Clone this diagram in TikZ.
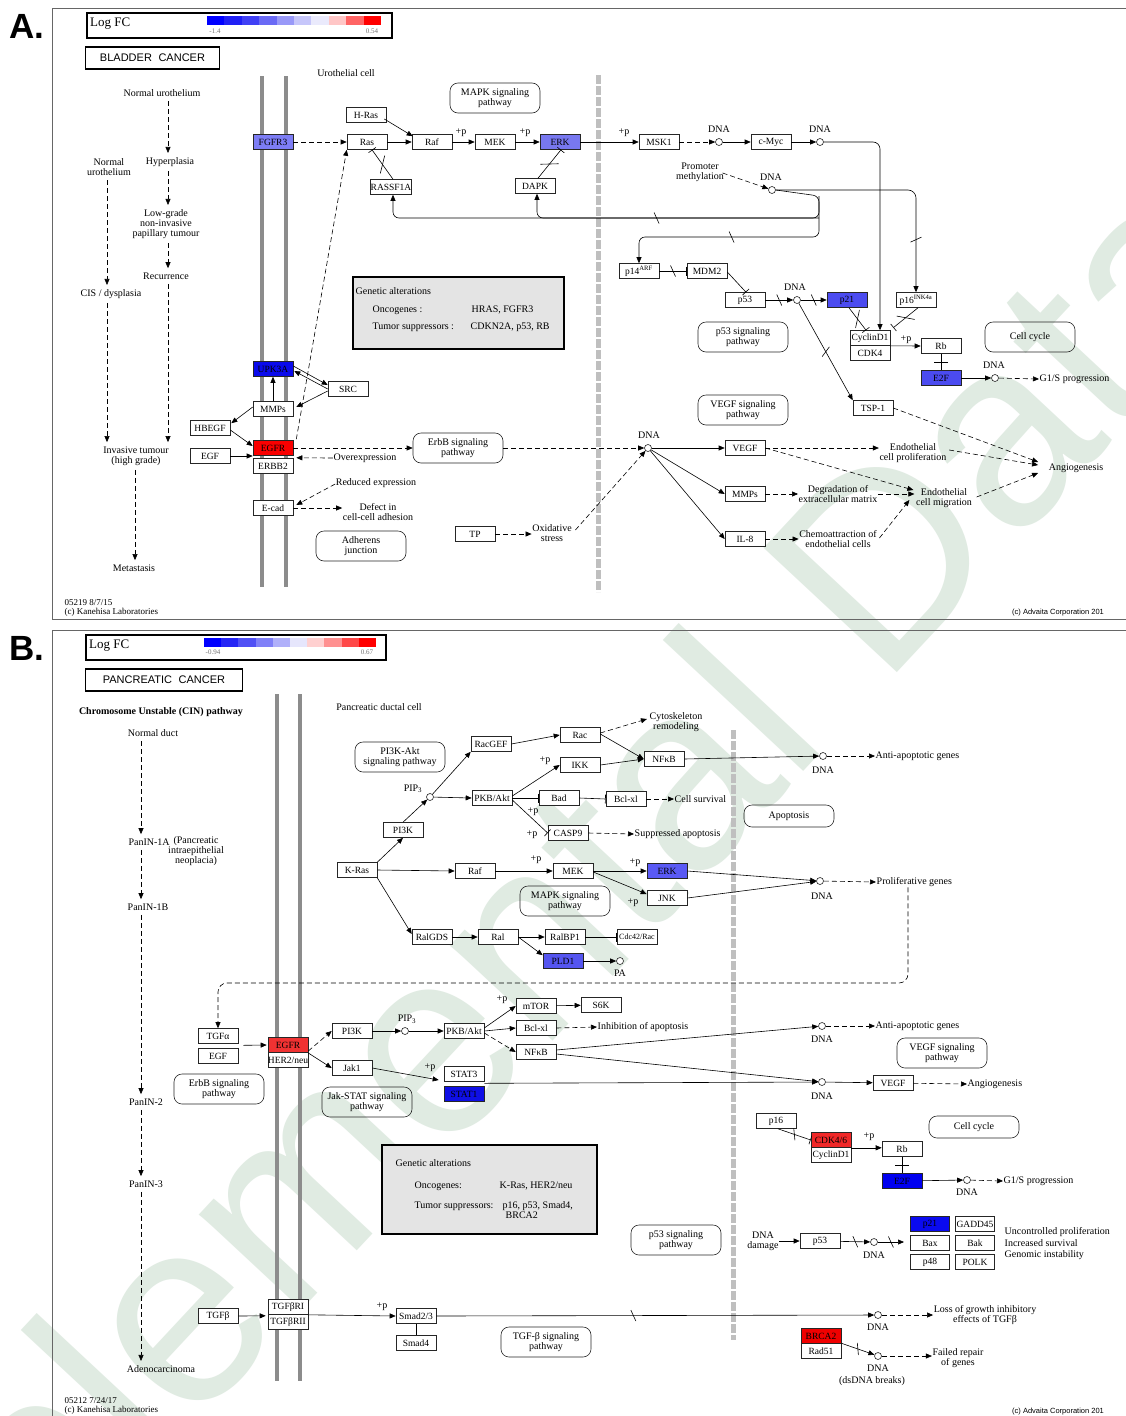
\documentclass[tikz,border=0pt]{standalone}
\usepackage{fontspec}
\setmainfont{Liberation Serif}
\newfontfamily\sansf{Liberation Sans}
\usetikzlibrary{arrows.meta,decorations.markings}
\definecolor{cfgfr}{RGB}{125,125,245}
\definecolor{cerkA}{RGB}{120,120,240}
\definecolor{cupk}{RGB}{10,10,235}
\definecolor{cp21A}{RGB}{75,75,240}
\definecolor{ce2fA}{RGB}{75,75,240}
\definecolor{credA}{RGB}{250,0,0}
\definecolor{cerkB}{RGB}{90,90,245}
\definecolor{cpld}{RGB}{85,85,240}
\definecolor{cstat}{RGB}{15,15,230}
\definecolor{ce2fB}{RGB}{0,0,240}
\definecolor{cp21B}{RGB}{10,10,240}
\definecolor{cegfrB}{RGB}{240,50,50}
\definecolor{ccdk}{RGB}{240,40,40}
\definecolor{cbrca}{RGB}{240,0,0}
\definecolor{wm}{RGB}{224,235,226}
\definecolor{gbox}{RGB}{228,228,228}
\definecolor{a1}{HTML}{0000FF}\definecolor{a2}{HTML}{2020F5}\definecolor{a3}{HTML}{4040F5}
\definecolor{a4}{HTML}{6A6AF5}\definecolor{a5}{HTML}{9999F8}\definecolor{a6}{HTML}{C6C6FA}
\definecolor{a7}{HTML}{EAEAFC}\definecolor{a8}{HTML}{FFC6C6}\definecolor{a9}{HTML}{FF6464}
\definecolor{a10}{HTML}{FF0000}
\definecolor{b1}{HTML}{0000FF}\definecolor{b2}{HTML}{2525F5}\definecolor{b3}{HTML}{5050F5}
\definecolor{b4}{HTML}{8080F8}\definecolor{b5}{HTML}{B0B0FA}\definecolor{b6}{HTML}{E6E6FC}
\definecolor{b7}{HTML}{FFD0D0}\definecolor{b8}{HTML}{FF9090}\definecolor{b9}{HTML}{FF4848}
\definecolor{b10}{HTML}{FF0000}
\newcommand\fs{\fontsize{10}{10}\selectfont}
\newcommand\gs{\fontsize{9.5}{10}\selectfont}
\newcommand\smallf{\fontsize{7}{7}\selectfont}
\begin{document}
\begin{tikzpicture}[x=1pt,y=-1pt,
 gene/.style={draw=black!85, line width=0.6pt, fill=white, minimum width=40, minimum height=15, inner sep=0pt, font=\gs},
 pw/.style={draw=black!85, line width=0.6pt, rounded corners=8, minimum width=90, minimum height=30, inner sep=1pt, align=center, font=\fs},
 txt/.style={inner sep=0.5pt, align=center, font=\fs},
 col/.style={txt, outer sep=4pt},
 dna/.style={circle, draw=black!85, fill=white, line width=0.6pt, minimum size=7, inner sep=0pt},
 ar/.style={line width=0.6pt, -{Triangle[length=6pt,width=5pt]}},
 dar/.style={ar, dash pattern=on 5pt off 3pt},
 inh/.style={line width=0.6pt, -{Bar[width=9pt]}},
 ln/.style={line width=0.6pt},
 memb/.style={line width=3.5pt, draw=black!45},
 vd/.style={line width=5pt, draw=black!25, dash pattern=on 9pt off 2pt},
 frm/.style={line width=0.8pt, draw=black!60},
 xs/.style={postaction={decorate}, decoration={markings, mark=at position #1 with {\draw[solid, -, line width=0.6pt] (-2.5,-5.5) -- (2.5,5.5);}}},
 xs/.default=0.5,
 xl/.style={postaction={decorate}, decoration={markings, mark=at position #1 with {\draw[solid, -, line width=0.6pt] (-6,-7) -- (6,7);}}},
 xl/.default=0.5,
 tb/.style={postaction={decorate}, decoration={markings, mark=at position 0.5 with {\draw[solid, -, line width=0.7pt] (0,-7) -- (0,7);}}},
 lfc/.style={draw, line width=1.8pt, anchor=north west, inner sep=0pt},
 titl/.style={draw, line width=1.8pt, inner sep=0pt, font=\sansf\fontsize{11}{11}\selectfont},
 gen/.style={draw, line width=2pt, fill=gbox, anchor=north west, inner sep=0pt},
 lt/.style={txt, anchor=west, align=left},
 panl/.style={font=\sansf\bfseries\fontsize{35}{35}\selectfont, inner sep=0pt}
]
\useasboundingbox (0,0) rectangle (1126,1416);
\fill[white] (0,0) rectangle (1126,1416);
% watermark
\node[rotate=47, anchor=base west, text=wm, font=\sansf\fontsize{265}{265}\selectfont, inner sep=0pt] (wmk) at (-273,1927) {Supplemental Data};

%================ PANEL A =================
\node[panl] (labA) at (27,26) {A.};
\draw[frm] (1140,8) -- (52,8) -- (52,619) -- (1140,619);
\node[lfc, minimum width=305, minimum height=25] (lfcA) at (86,12) {};
\node[anchor=west, font=\fontsize{13}{13}\selectfont, inner sep=0pt] (lfcAt) at (90,24) {Log FC};
\foreach \c [count=\i from 0] in {a1,a2,a3,a4,a5,a6,a7,a8,a9,a10} {\fill[\c] ({207+17.4*\i},16) rectangle ++(17.4,9);}
\node[font=\smallf, text=black!55, inner sep=0pt] (lfcAmin) at (215,31) {-1.4};
\node[font=\smallf, text=black!55, inner sep=0pt] (lfcAmax) at (372,31) {0.54};
\node[titl, minimum width=134, minimum height=22] (titA) at (152.5,58) {BLADDER\hspace{0.6em}CANCER};

\draw[memb] (262,76) -- (262,587);
\draw[memb] (286,76) -- (286,587);
\draw[vd] (598,75) -- (598,592);
\node[txt] (uro) at (346,73) {Urothelial cell};

% left column
\coordinate (colA1) at (168,0);
\coordinate (colA2) at (107,0);
\coordinate (colA3) at (135,0);
\node[col] (nu1) at (162,93) {Normal urothelium};
\node[col] (hyp) at (170,162) {Hyperplasia};
\node[col] (nu2) at (109,167) {Normal\\urothelium};
\node[col] (lg) at (166,224) {Low-grade\\non-invasive\\papillary tumour};
\node[col] (rec) at (166,276) {Recurrence};
\node[col] (cis) at (111,294) {CIS / dysplasia};
\node[col] (inv) at (136,456) {Invasive tumour\\(high grade)};
\node[col] (met) at (134,568) {Metastasis};
\draw[dar] (nu1.south -| colA1) -- (hyp.north -| colA1);
\draw[dar] (hyp.south -| colA1) -- (lg.north -| colA1);
\draw[dar] (lg.south -| colA1) -- (rec.north -| colA1);
\draw[dar] (rec.south -| colA1) -- (inv.north -| colA1);
\draw[dar] (nu2.south -| colA2) -- (cis.north -| colA2);
\draw[dar] (cis.south -| colA2) -- (inv.north -| colA2);
\draw[dar] (inv.south -| colA3) -- (met.north -| colA3);

% top row
\node[pw] (mapkA) at (495,98) {MAPK signaling\\pathway};
\node[gene, fill=cfgfr] (fgfr3) at (273,142) {FGFR3};
\node[gene] (hras) at (366,115) {H-Ras};
\node[gene] (ras) at (367,142) {Ras};
\node[gene] (raf) at (432,142) {Raf};
\node[gene] (mek) at (495,142) {MEK};
\node[gene, fill=cerkA] (erk) at (560,142) {ERK};
\node[gene] (rassf) at (391,187) {RASSF1A};
\node[gene] (dapk) at (535,186) {DAPK};
\node[gene] (msk) at (659,142) {MSK1};
\node[dna] (dna1) at (719,142) {};
\node[txt] (ldna1) at (719,129) {DNA};
\node[gene] (cmyc) at (771,142) {c-Myc};
\node[dna] (dna2) at (820,142) {};
\node[txt] (ldna2) at (820,129) {DNA};
\node[txt] (pm) at (700,172) {Promoter\\methylation};
\node[dna] (dna3) at (772,190) {};
\node[txt] (ldna3) at (771,177) {DNA};
\node[gene] (p14) at (639,271) {p14\textsuperscript{ARF}};
\node[gene] (mdm2) at (707,271) {MDM2};
\node[gene] (p53) at (745,300) {p53};
\node[dna] (dna4) at (797,300) {};
\node[txt] (ldna4) at (795,287) {DNA};
\node[gene, fill=cp21A] (p21) at (847,300) {p21};
\node[gene] (p16) at (916,300) {p16\textsuperscript{INK4a}};
\node[gene] (ccnd) at (870,338) {CyclinD1};
\node[gene] (cdk4) at (870,353) {CDK4};
\node[gene] (rb) at (941,346) {Rb};
\node[gene, fill=ce2fA] (e2f) at (941,378) {E2F};
\node[dna] (dna5) at (995,378) {};
\node[txt] (ldna5) at (994,365) {DNA};
\node[txt, anchor=west] (g1s) at (1039,379) {G1/S progression};
\node[pw] (ccA) at (1030,337) {Cell cycle};
\node[pw] (p53pw) at (743,337) {p53 signaling\\pathway};
\node[pw] (vegfpw) at (743,410) {VEGF signaling\\pathway};
\node[gene] (tsp) at (873,408) {TSP-1};
\node[txt] (angio) at (1076,468) {Angiogenesis};
\node[txt] (pA1) at (461,133) {+p};
\node[txt] (pA2) at (525,133) {+p};
\node[txt] (pA3) at (624,133) {+p};
\node[txt] (pA4) at (906,340) {+p};

% genetic alterations A
\node[gen, minimum width=211, minimum height=72] (genA) at (352,276) {};
\node[lt] (genA1) at (355,291) {Genetic alterations};
\node[lt] (genA2) at (372,310) {Oncogenes :};
\node[lt] (genA3) at (471,310) {HRAS, FGFR3};
\node[lt] (genA4) at (372,327) {Tumor suppressors :};
\node[lt] (genA5) at (470,327) {CDKN2A, p53, RB};

% membrane genes
\node[gene, fill=cupk] (upk) at (273,369) {UPK3A};
\node[gene] (mmpA) at (273,409) {MMPs};
\node[gene] (src) at (348,389) {SRC};
\node[gene] (hbegf) at (210,428) {HBEGF};
\node[gene, fill=credA] (egfrA) at (273,448) {EGFR};
\node[gene] (erbb2) at (273,466) {ERBB2};
\node[gene] (egfA) at (210,456) {EGF};
\node[gene] (ecad) at (273,508) {E-cad};
\node[pw] (erbbA) at (458,448) {ErbB signaling\\pathway};
\node[txt] (overx) at (365,458) {Overexpression};
\node[txt] (redx) at (376,483) {Reduced expression};
\node[txt] (defect) at (378,512) {Defect in\\cell-cell adhesion};
\node[pw] (adh) at (361,546) {Adherens\\junction};
\node[gene] (tp) at (475,534) {TP};
\node[txt] (oxs) at (552,533) {Oxidative\\stress};
\node[dna] (dna6) at (648,448) {};
\node[txt] (ldna6) at (649,435) {DNA};
\node[gene] (vegfA) at (745,448) {VEGF};
\node[gene] (mmpA2) at (745,494) {MMPs};
\node[gene] (il8) at (745,539) {IL-8};
\node[txt] (ecp) at (913,453) {Endothelial\\cell proliferation};
\node[txt] (ecm) at (944,498) {Endothelial\\cell migration};
\node[txt] (dem) at (838,494) {Degradation of\\extracellular matrix};
\node[txt] (chem) at (838,539) {Chemoattraction of\\endothelial cells};

\node[lt, font=\fontsize{9}{9.5}\selectfont] (footA) at (64,608) {05219 8/7/15\\(c) Kanehisa Laboratories};
\node[anchor=west, inner sep=0pt, font=\sansf\fontsize{7.5}{8}\selectfont] (advA) at (1012,613) {(c) Advaita Corporation 201};

% edges A
\draw[dar] (fgfr3) -- (ras);
\draw[ar] ([shift={(-2,4)}]hras.east) -- ([shift={(1,2)}]raf.north west);
\draw[ar] (ras) -- (raf);
\draw[ar] (raf) -- (mek);
\draw[ar] (mek) -- (erk);
\draw[ar] (erk) -- (msk);
\draw[dar] (msk) -- (dna1);
\draw[ar] (dna1) -- (cmyc);
\draw[ar] (cmyc) -- (dna2);
\draw[ar, rounded corners=7] (dna2.east) -| ([xshift=10]ccnd.north);
\draw[inh, xl] ([xshift=2]rassf.north) -- ([xshift=5]ras.south);
\draw[inh, xl] ([xshift=3]dapk.north) -- ([xshift=1]erk.south);
\coordinate (fb0) at (819,196);
\coordinate (fb1) at (819,218);
\coordinate (fb2) at (819,237);
\draw[ar, rounded corners=8, xs=0.78] (dna3.east) -| (p16.north);
\draw[ar, rounded corners=6, xs=0.44] (dna3.east) -- (fb0) -- (fb1) -| ([xshift=2]rassf.south);
\draw[ar, rounded corners=6] (fb1) -| ([xshift=2]dapk.south);
\draw[ar, rounded corners=6, xs=0.52] (fb0) -- (fb2) -| (p14.north);
\draw[dar] ([shift={(-2,1)}]pm.east) -- (dna3);
\draw[inh, xs] (p14) -- (mdm2);
\draw[inh] ([shift={(0,1)}]mdm2.east) -- ([xshift=1]p53.north);
\draw[ar, xs] (p53) -- (dna4);
\draw[ar, xs] (dna4) -- (p21);
\draw[inh, xl] ([xshift=2]p21.south) -- ([xshift=-4]ccnd.north);
\draw[inh, xl] ([xshift=2]p16.south) -- ([shift={(3,-2.5)}]ccnd.north east);
\draw[ar] (ccnd.south east) -- (rb.west);
\draw[ln, tb] (rb) -- (e2f);
\draw[ar] (e2f) -- (dna5);
\draw[dar] (dna5) -- (g1s.west);
\draw[ar, xs] (dna4) -- (tsp.north west);
\draw[dar] (tsp.east) -- ([shift={(-10,-6)}]angio.west);
% membrane edges
\draw[ar] (mmpA.north) -- (upk.south);
\draw[ar] ([shift={(0,-3)}]upk.east) -- ([shift={(0,-4)}]src.west);
\draw[ar] ([shift={(0,0)}]src.west) -- ([shift={(1,2)}]upk.east);
\draw[ar] ([shift={(0,2)}]src.west) -- ([shift={(3,-2)}]mmpA.east);
\draw[ar] ([shift={(0,-2)}]mmpA.west) -- ([shift={(1,3)}]hbegf.north east);
\draw[ar] ([shift={(0,2)}]hbegf.east) -- ([shift={(0,-2)}]egfrA.west);
\draw[ar] (egfA.east) -- (egfA.east -| egfrA.west);
\draw[dar] (egfrA.east) -- (erbbA.west);
\draw[dar] ([shift={(3,-1)}]egfrA.north east) -- (ras.south west);
\draw[dar] (overx.west) -- ([shift={(3,2)}]egfrA.south east);
\draw[dar] ([shift={(0,1)}]redx.west) -- ([shift={(3,-3)}]ecad.east);
\draw[dar] (ecad.east) -- (ecad.east -| defect.west);
\draw[dar] (erbbA.east) -- (dna6);
\draw[dar] (tp.east) -- (tp.east -| oxs.west);
\draw[dar] ([shift={(3,-3)}]oxs.east) -- (dna6);
\draw[ar] (dna6) -- (vegfA.west);
\draw[ar] (dna6) -- (mmpA2.west);
\draw[ar] (dna6) -- (il8.west);
\draw[dar] (vegfA.east) -- (vegfA.east -| ecp.west);
\draw[dar] (vegfA.east) -- ([shift={(-2,-8)}]ecm.west);
\draw[dar] (mmpA2.east) -- (mmpA2.east -| dem.west);
\draw[dar] (dem.east) -- ([shift={(-1,-4)}]ecm.west);
\draw[dar] (il8.east) -- (il8.east -| chem.west);
\draw[dar] ([shift={(2,-1)}]chem.east) -- ([shift={(-6,2)}]ecm.west);
\draw[dar] ([shift={(2,-3)}]ecp.east) -- ([shift={(-10,-3)}]angio.west);
\draw[dar] ([shift={(4,-1)}]ecm.east) -- ([shift={(-10,5)}]angio.west);

%================ PANEL B =================
\node[panl] (labB) at (27,648) {B.};
\draw[frm] (1140,630) -- (52,630) -- (52,1440);
\node[lfc, minimum width=300, minimum height=25] (lfcB) at (85,634) {};
\node[anchor=west, font=\fontsize{13}{13}\selectfont, inner sep=0pt] (lfcBt) at (89,646) {Log FC};
\foreach \c [count=\i from 0] in {b1,b2,b3,b4,b5,b6,b7,b8,b9,b10} {\fill[\c] ({204+17.2*\i},638) rectangle ++(17.2,9);}
\node[font=\smallf, text=black!55, inner sep=0pt] (lfcBmin) at (213,652) {-0.94};
\node[font=\smallf, text=black!55, inner sep=0pt] (lfcBmax) at (367,652) {0.67};
\node[titl, minimum width=157, minimum height=22] (titB) at (164,680) {PANCREATIC\hspace{0.6em}CANCER};

\draw[memb] (277,694) -- (277,1381);
\draw[memb] (300,694) -- (300,1381);
\draw[vd] (733,730) -- (733,1340);
\node[txt] (pdc) at (379,707) {Pancreatic ductal cell};

% left column B
\coordinate (colB) at (141,0);
\node[txt, font=\fs\bfseries] (cin) at (161,712) {Chromosome Unstable (CIN) pathway};
\node[col] (nd) at (153,733) {Normal duct};
\node[col, anchor=west] (p1a) at (124,842) {PanIN-1A};
\node[txt, font=\fontsize{10}{9}\selectfont] (p1ad) at (196,851) {(Pancreatic\\intraepithelial\\neoplacia)};
\node[col] (p1b) at (148,907) {PanIN-1B};
\node[col] (p2) at (146,1102) {PanIN-2};
\node[col] (p3) at (146,1184) {PanIN-3};
\node[col] (adeno) at (161,1369) {Adenocarcinoma};
\draw[dar] (nd.south -| colB) -- (p1a.north -| colB);
\draw[dar] (p1a.south -| colB) -- (p1b.north -| colB);
\draw[dar] (p1b.south -| colB) -- (p2.north -| colB);
\draw[dar] (p2.south -| colB) -- (p3.north -| colB);
\draw[dar] (p3.south -| colB) -- (adeno.north -| colB);

% upper network
\node[pw] (pi3kpw) at (400,757) {PI3K-Akt\\signaling pathway};
\node[gene] (kras) at (357,870) {K-Ras};
\node[gene] (pi3kB) at (403,830) {PI3K};
\node[dna] (pip3a) at (430,797) {};
\node[txt] (lpip3a) at (413,789) {PIP\textsubscript{3}};
\node[gene] (racgef) at (491,744) {RacGEF};
\node[gene] (pkbB) at (492,798) {PKB/Akt};
\node[gene] (rac) at (580,735) {Rac};
\node[gene] (ikk) at (580,765) {IKK};
\node[gene] (nfkbB1) at (664,759) {NFκB};
\node[gene] (bad) at (559,798) {Bad};
\node[gene] (bclB1) at (626,799) {Bcl-xl};
\node[gene] (casp9) at (568,833) {CASP9};
\node[gene] (rafB) at (475,871) {Raf};
\node[gene] (mekB) at (573,871) {MEK};
\node[gene, fill=cerkB] (erkB) at (667,871) {ERK};
\node[gene] (jnk) at (667,898) {JNK};
\node[gene] (ralgds) at (432,937) {RalGDS};
\node[gene] (ral) at (498,937) {Ral};
\node[gene] (ralbp1) at (565,937) {RalBP1};
\node[gene, font=\fontsize{8}{8}\selectfont] (cdc42) at (637,937) {Cdc42/Rac};
\node[gene, fill=cpld] (pld1) at (563,961) {PLD1};
\node[dna] (pa) at (620,961) {};
\node[txt] (lpa) at (620,973) {PA};
\node[pw] (mapkB) at (565,901) {MAPK signaling\\pathway};
\node[txt] (cyto) at (676,722) {Cytoskeleton\\remodeling};
\node[txt, anchor=west] (csurv) at (674,799) {Cell survival};
\node[txt, anchor=west] (supap) at (634,834) {Suppressed apoptosis};
\node[pw, minimum height=22] (apopt) at (789,816) {Apoptosis};
\node[dna] (dnaB1) at (823,756) {};
\node[txt] (ldnaB1) at (823,770) {DNA};
\node[txt, anchor=west] (antiap1) at (875,756) {Anti-apoptotic genes};
\node[dna] (dnaB2) at (820,881) {};
\node[txt] (ldnaB2) at (822,896) {DNA};
\node[txt, anchor=west] (prolif) at (876,882) {Proliferative genes};
\node[txt] (pB1) at (545,761) {+p};
\node[txt] (pB2) at (533,812) {+p};
\node[txt] (pB3) at (532,835) {+p};
\node[txt] (pB4) at (536,860) {+p};
\node[txt] (pB5) at (635,863) {+p};
\node[txt] (pB6) at (633,903) {+p};

% lower network
\node[gene] (tgfa) at (218,1036) {TGFα};
\node[gene] (egfB) at (218,1056) {EGF};
\node[gene, fill=cegfrB] (egfrB) at (288,1045) {EGFR};
\node[gene] (her2) at (288,1060) {HER2/neu};
\node[gene] (pi3kB2) at (352,1031) {PI3K};
\node[gene] (jak1) at (352,1068) {Jak1};
\node[dna] (pip3b) at (405,1031) {};
\node[txt] (lpip3b) at (407,1019) {PIP\textsubscript{3}};
\node[gene] (pkbB2) at (464,1031) {PKB/Akt};
\node[gene] (mtor) at (536,1006) {mTOR};
\node[gene] (s6k) at (601,1005) {S6K};
\node[gene] (bclB2) at (536,1028) {Bcl-xl};
\node[txt, anchor=west] (inhap) at (597,1027) {Inhibition of apoptosis};
\node[gene] (nfkbB2) at (536,1052) {NFκB};
\node[gene] (stat3) at (464,1074) {STAT3};
\node[gene, fill=cstat] (stat1) at (464,1094) {STAT1};
\node[dna] (dnaB3) at (822,1026) {};
\node[txt] (ldnaB3) at (822,1039) {DNA};
\node[txt, anchor=west] (antiap2) at (875,1026) {Anti-apoptotic genes};
\node[dna] (dnaB4) at (822,1082) {};
\node[txt] (ldnaB4) at (822,1096) {DNA};
\node[gene] (vegfB) at (893,1083) {VEGF};
\node[txt, anchor=west] (angioB) at (967,1084) {Angiogenesis};
\node[pw] (vegfpwB) at (942,1053) {VEGF signaling\\pathway};
\node[pw] (erbbB) at (219,1089) {ErbB signaling\\pathway};
\node[pw] (jakpw) at (367,1102) {Jak-STAT signaling\\pathway};
\node[txt] (pB7) at (502,1000) {+p};
\node[txt] (pB8) at (430,1068) {+p};

% genetic alterations B
\node[gen, minimum width=215, minimum height=89] (genB) at (381,1144) {};
\node[lt] (genB1) at (395,1163) {Genetic alterations};
\node[lt] (genB2) at (414,1186) {Oncogenes:};
\node[lt] (genB3) at (499,1186) {K-Ras, HER2/neu};
\node[lt] (genB4) at (414,1206) {Tumor suppressors:};
\node[lt] (genB5) at (502,1206) {p16, p53, Smad4,};
\node[lt] (genB6) at (505,1215) {BRCA2};

% cell cycle B
\node[gene] (p16B) at (776,1121) {p16};
\node[gene, fill=ccdk] (cdk46) at (831,1140) {CDK4/6};
\node[gene] (ccndB) at (831,1155) {CyclinD1};
\node[gene] (rbB) at (902,1149) {Rb};
\node[gene, fill=ce2fB] (e2fB) at (902,1181) {E2F};
\node[dna] (dnaB5) at (967,1180) {};
\node[txt] (ldnaB5) at (967,1192) {DNA};
\node[txt, anchor=west] (g1sB) at (1003,1181) {G1/S progression};
\node[pw, minimum height=22] (ccB) at (974,1127) {Cell cycle};
\node[txt] (pB9) at (869,1137) {+p};

% p53 B
\node[pw] (p53pwB) at (676,1240) {p53 signaling\\pathway};
\node[txt] (dnadmg) at (763,1241) {DNA\\damage};
\node[gene] (p53B) at (820,1241) {p53};
\node[dna] (dnaB6) at (874,1242) {};
\node[txt] (ldnaB6) at (874,1255) {DNA};
\coordinate (grp) at (904,1242);
\node[gene, minimum width=39, fill=cp21B] (p21B) at (930,1224) {p21};
\node[gene, minimum width=39] (gadd) at (975,1224) {GADD45};
\node[gene, minimum width=39] (bax) at (930,1243) {Bax};
\node[gene, minimum width=39] (bak) at (975,1243) {Bak};
\node[gene, minimum width=39] (p48) at (930,1262) {p48};
\node[gene, minimum width=39] (polk) at (975,1262) {POLK};
\node[lt, font=\fontsize{10}{11.5}\selectfont] (outc) at (1004,1244) {Uncontrolled proliferation\\Increased survival\\Genomic instability};

% TGF-beta B
\node[gene] (tgfb) at (218,1316) {TGFβ};
\node[gene] (tgfbr1) at (288,1307) {TGFβRI};
\node[gene] (tgfbr2) at (288,1322) {TGFβRII};
\node[gene] (smad23) at (416,1316) {Smad2/3};
\node[gene] (smad4) at (416,1343) {Smad4};
\node[pw] (tgfpw) at (546,1342) {TGF-β signaling\\pathway};
\node[dna] (dnaB7) at (878,1315) {};
\node[txt] (ldnaB7) at (878,1327) {DNA};
\node[txt] (loss) at (985,1315) {Loss of growth inhibitory\\effects of TGFβ};
\node[txt] (pB10) at (382,1307) {+p};
\node[gene, fill=cbrca] (brca2) at (821,1336) {BRCA2};
\node[gene] (rad51) at (821,1351) {Rad51};
\node[dna] (dnaB8) at (878,1356) {};
\node[txt] (ldnaB8) at (878,1368) {DNA};
\node[txt] (dsb) at (872,1381) {(dsDNA breaks)};
\node[txt] (failed) at (958,1358) {Failed repair\\of genes};

\node[lt, font=\fontsize{9}{9.5}\selectfont] (footB) at (64,1406) {05212 7/24/17\\(c) Kanehisa Laboratories};
\node[anchor=west, inner sep=0pt, font=\sansf\fontsize{7.5}{8}\selectfont] (advB) at (1012,1412) {(c) Advaita Corporation 201};

% edges B upper
\draw[ar] (kras.north east) -- (pi3kB.south);
\draw[ar] (pi3kB.north) -- (pip3a);
\draw[ar] (pip3a) -- (racgef.south west);
\draw[ar] (pip3a) -- (pkbB.west);
\draw[ar] (racgef.east) -- (rac.west);
\draw[ar] ([shift={(0,-2)}]pkbB.east) -- (ikk.west);
\draw[dar] ([shift={(0,-2)}]rac.east) -- ([shift={(-2,-3)}]cyto.west);
\draw[ar] ([shift={(0,-1)}]rac.east) -- (nfkbB1.west);
\draw[ar] (ikk.east) -- (nfkbB1.west);
\draw[ar] (nfkbB1.east) -- (dnaB1);
\draw[dar] (dnaB1) -- (antiap1.west);
\draw[inh] (pkbB.east) -- (bad.west);
\draw[inh] (bad.east) -- (bclB1.west);
\draw[dar] (bclB1.east) -- (csurv.west);
\draw[inh] ([shift={(0,2)}]pkbB.east) -- (casp9.west);
\draw[dar] (casp9.east) -- (supap.west);
\draw[ar] (kras.east) -- (rafB.west);
\draw[ar] (rafB) -- (mekB);
\draw[ar] (mekB.east) -- (erkB.west);
\draw[ar] ([shift={(0,1)}]mekB.east) -- ([shift={(0,-4)}]jnk.west);
\draw[ar] (erkB.east) -- (dnaB2);
\draw[ar] (jnk.east) -- (dnaB2);
\draw[dar] (dnaB2) -- (prolif.west);
\draw[ar] (kras.south east) -- ([shift={(0,-3)}]ralgds.west);
\draw[ar] (ralgds) -- (ral);
\draw[ar] (ral) -- (ralbp1);
\draw[inh] (ralbp1) -- (cdc42);
\draw[ar] (ral.east) -- ([shift={(0,2)}]pld1.north west);
\draw[ar] (pld1) -- (pa);
\coordinate (rt) at (908,983);
\draw[dar, rounded corners=9] (prolif.south -| rt) -- (rt) -| (tgfa.north);

% edges B lower
\draw[ar] ([shift={(5,1.5)}]tgfa.south east) -- ([shift={(-1,0)}]egfrB.west);
\draw[dar] ([shift={(0,6)}]egfrB.east) -- (pi3kB2.west);
\draw[ar] ([shift={(0,8)}]egfrB.east) -- (jak1.west);
\draw[ar] (pi3kB2) -- (pip3b);
\draw[ar] (pip3b) -- (pkbB2);
\draw[ar] ([shift={(0,-3)}]pkbB2.east) -- (mtor.west);
\draw[ar] (mtor) -- (s6k);
\draw[ar] (pkbB2.east) -- (bclB2.west);
\draw[dar] (bclB2.east) -- (inhap.west);
\draw[dar] ([shift={(0,2)}]pkbB2.east) -- (nfkbB2.west);
\draw[ar] ([shift={(0,-2)}]nfkbB2.east) -- (dnaB3);
\draw[ar] ([shift={(0,2)}]nfkbB2.east) -- (dnaB4);
\draw[dar] (dnaB3) -- (antiap2.west);
\draw[ar] (jak1.east) -- ([shift={(-5,6)}]stat3.west);
\draw[ar] ([shift={(0,1.5)}]stat3.south east) -- (dnaB4);
\draw[ar] (dnaB4) -- (vegfB);
\draw[dar] (vegfB) -- (angioB.west);
\draw[inh, xs] ([xshift=2]p16B.south) -- (cdk46.west);
\draw[ar] (cdk46.south east) -- (cdk46.south east -| rbB.west);
\draw[ln, tb] (rbB) -- (e2fB);
\draw[ar] (e2fB) -- (dnaB5);
\draw[dar] (dnaB5) -- (g1sB.west);
\draw[ar] (dnadmg.east |- p53B.west) -- (p53B.west);
\draw[ar, xs] (p53B) -- (dnaB6);
\draw[ar, xs] (dnaB6) -- (grp);
\draw[ar] (tgfb.east) -- ([shift={(-2,1)}]tgfbr1.south west);
\draw[ar] (tgfbr1.south east) -- (smad23.west);
\draw[ln] (smad23) -- (smad4);
\draw[ar, xs=0.45] (smad23.east) -- (dnaB7);
\draw[dar] (dnaB7) -- (dnaB7 -| loss.west);
\draw[ar, xs] (rad51.north east) -- (dnaB8);
\draw[dar] (dnaB8) -- (dnaB8 -| failed.west);
\end{tikzpicture}
\end{document}
